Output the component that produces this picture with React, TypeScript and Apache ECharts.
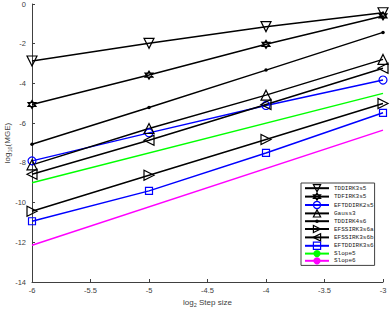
import React, { useEffect, useRef } from "react";
import * as echarts from "echarts";

const stepSizes = [-6, -5, -4, -3];
const slopeX = [-6, -3];

const tddirk3s5 = [-2.87, -1.98, -1.14, -0.44];
const tdfirk3s5 = [-5.06, -3.58, -2.03, -0.6];
const eftddirk2s5 = [-7.9, -6.49, -5.11, -3.83];
const gauss3 = [-8.1, -6.27, -4.59, -2.79];
const tddirk4s6 = [-7.06, -5.21, -3.33, -1.43];
const efssirk3s6a = [-10.44, -8.62, -6.82, -5.01];
const efssirk3s6b = [-8.57, -6.86, -5.06, -3.24];
const eftddirk3s6 = [-10.94, -9.41, -7.5, -5.48];
const slope5 = [-9.0, -4.5];
const slope6 = [-12.15, -6.35];

const legendNames = [
  "TDDIRK3s5",
  "TDFIRK3s5",
  "EFTDDIRK2s5",
  "Gauss3",
  "TDDIRK4s6",
  "EFSSIRK3s6a",
  "EFSSIRK3s6b",
  "EFTDDIRK3s6",
  "Slope5",
  "Slope6",
];

const hexagram =
  "path://M0,-10 L8.66,5 L-8.66,5 Z M0,10 L8.66,-5 L-8.66,-5 Z";
// small dot inside a larger invisible bounding box
const dotPath =
  "path://M-10,-10 L-10,-10 M10,10 L10,10 M-5,0 A5,5 0 1,0 5,0 A5,5 0 1,0 -5,0 Z";

function pairs(xs: number[], ys: number[]) {
  return xs.map((x, i) => [x, ys[i]]);
}

export default function App() {
  const ref = useRef<HTMLDivElement>(null);
  useEffect(() => {
    if (!ref.current) return;
    const chart = echarts.init(ref.current, undefined, { renderer: "svg" });
    const hollow = (color: string) => ({
      color: "rgba(255,255,255,0)",
      borderColor: color,
      borderWidth: 1.2,
    });
    const colorOf: Record<string, string> = {
      EFTDDIRK2s5: "#0000ff",
      EFTDDIRK3s6: "#0000ff",
      Slope5: "#00ff00",
      Slope6: "#ff00ff",
    };
    const mk = (
      name: string,
      ys: number[],
      symbol: string,
      size: number,
      color: string,
      rotate = 0,
      filled = false
    ) => ({
      name,
      type: "line",
      data: pairs(stepSizes, ys),
      symbol,
      symbolSize: size,
      symbolRotate: rotate,
      showAllSymbol: true,
      lineStyle: { color, width: 1.5 },
      itemStyle: filled ? { color, borderColor: color, borderWidth: 0 } : hollow(color),
      emphasis: { disabled: true },
    });
    const nameRich = {
      a: { fontSize: 8, color: "#404040", fontFamily: "Liberation Sans" },
      s: { fontSize: 5.5, color: "#404040", fontFamily: "Liberation Sans", padding: [5, 0, 0, 0] },
    };
    chart.setOption({
      animation: false,
      grid: { left: 32, right: 7, top: 4, bottom: 30, outerBoundsMode: "none", containLabel: false },
      xAxis: {
        type: "value",
        min: -6,
        max: -3,
        interval: 0.5,
        name: "{a|log}{s|2}{a| Step size}",
        nameLocation: "middle",
        nameGap: 15,
        nameMoveOverlap: false,
        nameTextStyle: { rich: nameRich },
        axisLine: { show: true, onZero: false, lineStyle: { color: "#404040", width: 1 } },
        axisTick: { show: true, inside: true, length: 3, lineStyle: { color: "#404040" } },
        axisLabel: {
          fontSize: 7.5,
          color: "#404040",
          fontFamily: "Liberation Sans",
          margin: 4,
          showMinLabel: true,
          showMaxLabel: true,
          formatter: (v: number) => String(v),
        },
        splitLine: { show: false },
      },
      yAxis: {
        type: "value",
        min: -14,
        max: 0,
        interval: 2,
        name: "{a|log}{s|10}{a|(MGE)}",
        nameLocation: "middle",
        nameGap: 19,
        nameMoveOverlap: false,
        nameRotate: 90,
        nameTextStyle: { rich: nameRich },
        axisLine: { show: true, onZero: false, lineStyle: { color: "#404040", width: 1 } },
        axisTick: { show: true, inside: true, length: 3, lineStyle: { color: "#404040" } },
        axisLabel: {
          fontSize: 7.5,
          color: "#404040",
          fontFamily: "Liberation Sans",
          margin: 6,
          showMinLabel: true,
          showMaxLabel: true,
        },
        splitLine: { show: false },
      },
      legend: {
        orient: "vertical",
        left: 301,
        top: 183,
        padding: [1, 1, 1, 3],
        itemWidth: 24,
        itemHeight: 9,
        itemGap: 0,
        backgroundColor: "#ffffff",
        borderColor: "#404040",
        borderWidth: 1,
        textStyle: { fontSize: 6, fontFamily: "Liberation Mono", color: "#202020" },
        data: legendNames.map((n) => {
          const c = colorOf[n] || "#000000";
          if (n === "TDDIRK4s6" || n === "Slope5" || n === "Slope6") {
            return { name: n, itemStyle: { color: c, borderColor: c, borderWidth: 0 } };
          }
          return {
            name: n,
            itemStyle: { color: "rgba(255,255,255,0)", borderColor: c, borderWidth: 1.2 },
          };
        }),
      },
      series: [
        mk("TDDIRK3s5", tddirk3s5, "triangle", 10, "#000000", 180),
        mk("TDFIRK3s5", tdfirk3s5, hexagram, 8, "#000000"),
        mk("EFTDDIRK2s5", eftddirk2s5, "circle", 8, "#0000ff"),
        mk("Gauss3", gauss3, "triangle", 10, "#000000"),
        mk("TDDIRK4s6", tddirk4s6, dotPath, 7, "#000000", 0, true),
        mk("EFSSIRK3s6a", efssirk3s6a, "triangle", 10, "#000000", -90),
        mk("EFSSIRK3s6b", efssirk3s6b, "triangle", 10, "#000000", 90),
        mk("EFTDDIRK3s6", eftddirk3s6, "rect", 7, "#0000ff"),
        {
          name: "Slope5",
          type: "line",
          data: pairs(slopeX, slope5),
          symbol: "none",
          lineStyle: { color: "#00ff00", width: 1.5 },
          itemStyle: { color: "#00ff00" },
        },
        {
          name: "Slope6",
          type: "line",
          data: pairs(slopeX, slope6),
          symbol: "none",
          lineStyle: { color: "#ff00ff", width: 1.5 },
          itemStyle: { color: "#ff00ff" },
        },
      ],
    });
    return () => chart.dispose();
  }, []);
  return (
    <div
      ref={ref}
      style={{ position: "absolute", left: 0, top: 0, width: 390, height: 312 }}
    />
  );
}
